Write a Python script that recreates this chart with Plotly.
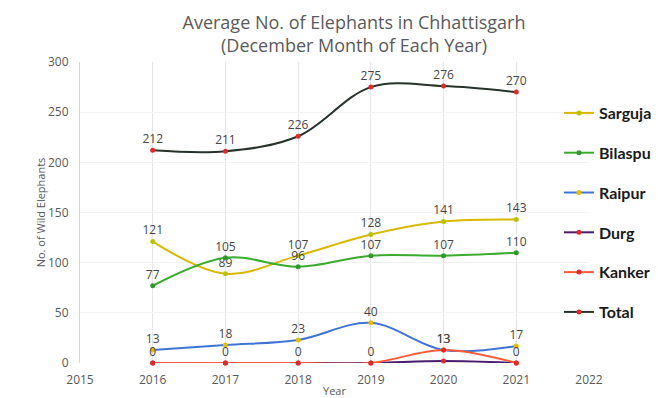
import plotly.graph_objects as go

years = [2016, 2017, 2018, 2019, 2020, 2021]
sarguja = [121, 89, 107, 128, 141, 143]
bilaspur = [77, 105, 96, 107, 107, 110]
raipur = [13, 18, 23, 40, 13, 17]
durg = [0, 0, 0, 0, 2, 0]
kanker = [0, 0, 0, 0, 13, 0]
total = [212, 211, 226, 275, 276, 270]

series = [
    # name, values, line colour, marker colour, show labels
    ("Sarguja", sarguja, "#d9b800", "#b8c400", True),
    ("Bilaspu", bilaspur, "#3bab2f", "#2e9a2a", True),
    ("Raipur", raipur, "#3f74d6", "#e3c000", True),
    ("Durg", durg, "#4a1c6e", "#e02a2a", False),
    ("Kanker", kanker, "#ff5b3a", "#e02a2a", True),
    ("Total", total, "#25332a", "#e02a2a", True),
]

fig = go.Figure()
for i, (name, vals, lc, mc, lab) in enumerate(series):
    fig.add_trace(go.Scatter(
        x=years, y=vals, name=name,
        mode="lines+markers+text" if lab else "lines+markers",
        text=[str(v) for v in vals] if lab else None,
        textposition="top center",
        textfont=dict(family="Open Sans", size=12, color="#454545"),
        line=dict(color=lc, width=2, shape="spline", smoothing=1),
        marker=dict(color=mc, size=5),
        legendgroup=f"g{i}",
        cliponaxis=False,
    ))

fig.update_layout(
    width=658, height=398,
    margin=dict(l=80, r=69, t=62, b=35, autoexpand=False),
    paper_bgcolor="white", plot_bgcolor="white",
    title=dict(
        text="Average No. of Elephants in Chhattisgarh<br>(December Month of Each Year)",
        x=0.538, xref="container", xanchor="center",
        y=0.927, yref="container", yanchor="middle",
        font=dict(family="Open Sans", size=18, color="#5a5a5a"),
    ),
    showlegend=True,
    legend=dict(
        x=0.941, xanchor="left", y=0.887, yanchor="top",
        traceorder="grouped", tracegroupgap=16,
        font=dict(family="Lato", size=16, color="#1a1a1a", weight="bold"),
        bgcolor="rgba(0,0,0,0)",
    ),
)

fig.update_xaxes(
    range=[2015, 2022], dtick=1, tick0=2015,
    showgrid=True, gridcolor="#e6e6e6", gridwidth=1,
    zeroline=False, showline=False, automargin=False,
    ticks="outside", ticklen=6, tickcolor="rgba(0,0,0,0)",
    tickfont=dict(family="Open Sans", size=12, color="#595959"),
    title=dict(text="Year", standoff=2,
               font=dict(family="Open Sans", size=11, color="#595959")),
)
fig.update_yaxes(
    range=[0, 300], dtick=50,
    showgrid=True, gridcolor="#f2f2f2", gridwidth=1,
    zeroline=False, showline=True, linecolor="#d4d4d4", linewidth=1,
    automargin=False,
    ticks="outside", ticklen=8, tickcolor="rgba(0,0,0,0)",
    tickfont=dict(family="Open Sans", size=12, color="#595959"),
    title=dict(text="No. of Wild Elephants", standoff=0,
               font=dict(family="Open Sans", size=11, color="#595959")),
)

fig.write_html("out.html")
